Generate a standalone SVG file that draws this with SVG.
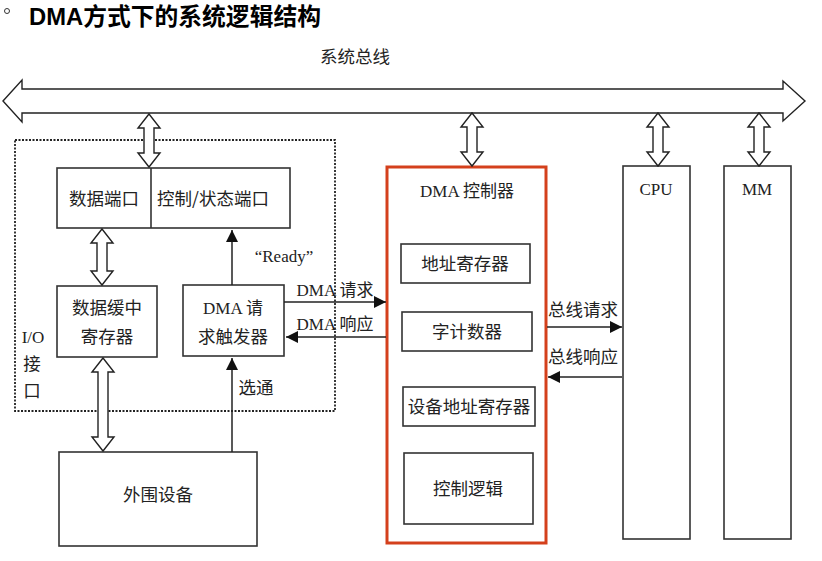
<svg xmlns="http://www.w3.org/2000/svg" width="822" height="561" viewBox="0 0 822 561">
<defs>
<marker id="ah" viewBox="0 0 10 10" refX="10" refY="5" markerWidth="12" markerHeight="12" markerUnits="userSpaceOnUse" orient="auto">
<path d="M0,0 L10,5 L0,10 Z" fill="#111"/>
</marker>
<style>
.box{fill:#fff;stroke:#333;stroke-width:1.6}
.hol{fill:#fff;stroke:#222;stroke-width:1.4;stroke-linejoin:miter}
.ln{fill:none;stroke:#222;stroke-width:1.5}
.t{font-family:"Liberation Serif","Noto Sans CJK SC",serif;font-size:17px;fill:#222;text-anchor:middle}
.c{font-family:"Noto Sans CJK SC","Liberation Sans",sans-serif;font-size:17.5px;fill:#222;text-anchor:middle}
</style>
</defs>
<rect width="822" height="561" fill="#fff"/>
<circle cx="7" cy="11" r="2.5" fill="none" stroke="#333" stroke-width="1"/>
<text x="29" y="25" textLength="292" lengthAdjust="spacingAndGlyphs" style="font-family:'Liberation Sans','Noto Sans CJK SC',sans-serif;font-size:24px;font-weight:bold;fill:#000">DMA方式下的系统逻辑结构</text>

<g id="bus">
<path class="hol" d="M3,101 L22,80 L22,89 L783,89 L783,81 L805,101 L783,121 L783,113 L22,113 L22,122 Z" stroke-width="1.8"/>
<text class="c" x="355" y="63">系统总线</text>
</g>

<g id="io-interface">
<rect x="15" y="140" width="320" height="271" fill="none" stroke="#222" stroke-width="1.8" stroke-dasharray="2,1.5"/>
<text class="t" x="33" y="343">I/O</text>
<text class="c" x="32" y="370">接</text>
<text class="c" x="32" y="397">口</text>
</g>

<g id="ports">
<rect class="box" x="57" y="168" width="233" height="60"/>
<line x1="151" y1="168" x2="151" y2="228" stroke="#333" stroke-width="1.6"/>
<text class="c" x="104" y="205">数据端口</text>
<text class="c" x="213" y="205">控制/状态端口</text>
</g>

<g id="buffer">
<rect class="box" x="57" y="286" width="100" height="71"/>
<text class="c" x="107" y="314">数据缓中</text>
<text class="c" x="107" y="343">寄存器</text>
</g>

<g id="trigger">
<rect class="box" x="183" y="285" width="101" height="71"/>
<text class="t" x="233" y="314">DMA <tspan style="font-family:'Noto Sans CJK SC',sans-serif">请</tspan></text>
<text class="c" x="233" y="343">求触发器</text>
</g>

<g id="peripheral">
<rect class="box" x="59" y="452" width="198" height="94"/>
<text class="c" x="158" y="501">外围设备</text>
</g>

<g id="dma-controller">
<rect x="387" y="167" width="159" height="376" fill="#fff" stroke="#d4401c" stroke-width="3"/>
<text class="t" x="467" y="197">DMA <tspan style="font-family:'Noto Sans CJK SC',sans-serif">控制器</tspan></text>
<rect class="box" x="401" y="244" width="129" height="39"/>
<text class="c" x="465" y="270">地址寄存器</text>
<rect class="box" x="402" y="312" width="130" height="39"/>
<text class="c" x="467" y="338">字计数器</text>
<rect class="box" x="403" y="387" width="132" height="39"/>
<text class="c" x="469" y="413">设备地址寄存器</text>
<rect class="box" x="404" y="453" width="129" height="71"/>
<text class="c" x="468" y="495">控制逻辑</text>
</g>

<g id="cpu">
<rect class="box" x="623" y="166" width="67" height="373"/>
<text class="t" x="656" y="195">CPU</text>
</g>

<g id="mm">
<rect class="box" x="724" y="166" width="67" height="373"/>
<text class="t" x="757" y="195">MM</text>
</g>

<g id="connectors">
<path class="hol" d="M149,114 L160,128 L154,128 L154,153 L160,153 L149,167 L138,153 L144,153 L144,128 L138,128 Z"/>
<path class="hol" d="M472,113 L483,127 L477,127 L477,152 L483,152 L472,166 L461,152 L467,152 L467,127 L461,127 Z"/>
<path class="hol" d="M658,113 L669,127 L663,127 L663,152 L669,152 L658,166 L647,152 L653,152 L653,127 L647,127 Z"/>
<path class="hol" d="M759,113 L770,127 L764,127 L764,152 L770,152 L759,166 L748,152 L754,152 L754,127 L748,127 Z"/>
<path class="hol" d="M102,229 L113,243 L107,243 L107,271 L113,271 L102,285 L91,271 L97,271 L97,243 L91,243 Z"/>
<path class="hol" d="M103,358 L114,372 L108,372 L108,437 L114,437 L103,451 L92,437 L98,437 L98,372 L92,372 Z"/>
<line class="ln" x1="232" y1="285" x2="232" y2="230" marker-end="url(#ah)"/>
<text class="t" x="284" y="262">“Ready”</text>
<line class="ln" x1="232" y1="452" x2="232" y2="358" marker-end="url(#ah)"/>
<text class="c" x="256" y="394">选通</text>
<line class="ln" x1="284" y1="302" x2="386" y2="302" marker-end="url(#ah)"/>
<text class="t" x="335" y="296">DMA <tspan style="font-family:'Noto Sans CJK SC',sans-serif">请求</tspan></text>
<line class="ln" x1="386" y1="337" x2="286" y2="337" marker-end="url(#ah)"/>
<text class="t" x="335" y="330">DMA <tspan style="font-family:'Noto Sans CJK SC',sans-serif">响应</tspan></text>
<line class="ln" x1="547" y1="327" x2="622" y2="327" marker-end="url(#ah)"/>
<text class="c" x="583" y="316">总线请求</text>
<line class="ln" x1="622" y1="377" x2="548" y2="377" marker-end="url(#ah)"/>
<text class="c" x="583" y="363">总线响应</text>
</g>
</svg>
